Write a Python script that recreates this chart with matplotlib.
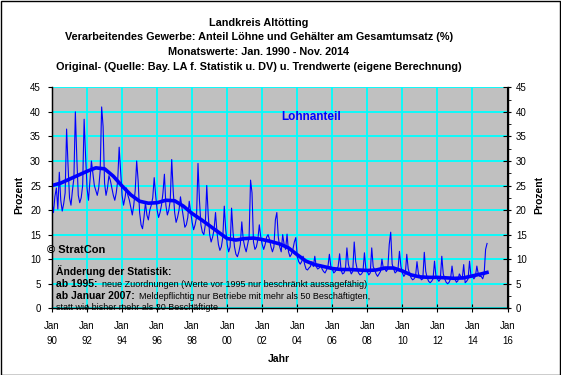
import numpy as np
import matplotlib
matplotlib.use("Agg")
import matplotlib.pyplot as plt
from matplotlib.patches import Rectangle

plt.rcParams['font.family'] = ['Liberation Sans', 'DejaVu Sans']

# monthly values Jan 1990 - Nov 2014 (Prozent), one list per year
y1990 = [21.5, 19.5, 22.8, 24.5, 20.2, 27.7, 22.0, 19.8, 21.3, 23.5, 36.5, 29.0]
y1991 = [22.5, 21.0, 24.0, 26.5, 40.0, 30.5, 23.0, 21.5, 22.5, 25.0, 38.5, 31.0]
y1992 = [24.5, 22.0, 26.0, 30.0, 27.5, 25.0, 24.0, 23.0, 24.5, 28.0, 41.0, 37.0]
y1993 = [25.5, 23.0, 24.5, 27.0, 26.0, 24.5, 23.0, 22.0, 23.5, 26.0, 32.8, 28.0]
y1994 = [23.0, 21.0, 22.5, 24.5, 23.0, 22.0, 20.5, 19.0, 21.0, 24.0, 30.0, 26.0]
y1995 = [19.5, 17.0, 16.2, 18.5, 21.5, 19.0, 18.0, 20.0, 21.0, 22.5, 26.6, 23.0]
y1996 = [20.0, 18.5, 19.5, 21.0, 23.5, 27.3, 21.0, 19.0, 20.0, 22.0, 30.3, 24.0]
y1997 = [19.5, 17.5, 18.5, 20.0, 22.7, 20.5, 18.5, 16.5, 17.0, 18.5, 21.8, 19.5]
y1998 = [17.5, 16.0, 17.0, 18.5, 29.5, 22.0, 17.0, 15.5, 15.0, 17.0, 25.0, 19.0]
y1999 = [15.0, 13.5, 14.5, 16.0, 19.5, 15.5, 13.0, 11.8, 12.5, 14.5, 20.8, 16.0]
y2000 = [13.0, 11.5, 12.5, 20.4, 15.5, 12.5, 11.0, 10.5, 11.5, 13.0, 17.6, 14.0]
y2001 = [12.5, 11.5, 13.0, 14.5, 26.1, 23.5, 13.5, 12.0, 12.5, 14.0, 17.0, 14.5]
y2002 = [13.0, 12.0, 13.0, 14.5, 15.0, 14.0, 12.5, 11.5, 12.5, 18.0, 19.5, 14.5]
y2003 = [12.5, 11.5, 15.0, 13.0, 12.0, 15.1, 11.5, 10.5, 11.0, 12.0, 13.5, 14.4]
y2004 = [10.5, 9.5, 9.0, 9.5, 10.6, 9.0, 8.0, 7.8, 8.2, 8.5, 9.5, 8.5]
y2005 = [10.6, 8.5, 8.0, 8.2, 8.8, 8.0, 7.5, 7.2, 7.8, 8.5, 11.0, 8.5]
y2006 = [8.0, 7.2, 7.5, 8.0, 8.5, 11.1, 7.8, 7.0, 7.2, 8.0, 12.3, 9.0]
y2007 = [7.8, 7.0, 7.5, 13.5, 9.5, 8.0, 7.2, 6.8, 7.0, 7.5, 11.3, 8.0]
y2008 = [7.5, 6.8, 7.2, 12.3, 8.5, 7.8, 7.0, 6.5, 7.0, 7.5, 10.0, 8.0]
y2009 = [8.0, 7.5, 8.0, 13.0, 15.5, 9.0, 8.0, 7.2, 7.5, 8.0, 11.6, 8.5]
y2010 = [7.2, 6.5, 7.0, 11.0, 8.0, 7.0, 6.2, 5.8, 6.0, 6.5, 9.5, 7.0]
y2011 = [6.5, 5.8, 6.0, 11.4, 7.5, 6.2, 5.5, 5.2, 5.5, 6.0, 9.6, 6.5]
y2012 = [6.0, 5.5, 6.0, 10.6, 7.0, 6.0, 5.3, 5.0, 5.3, 6.0, 8.6, 6.2]
y2013 = [6.0, 5.3, 5.6, 7.0, 6.5, 6.0, 8.9, 5.2, 5.5, 6.0, 9.6, 6.5]
y2014 = [6.5, 6.0, 6.5, 8.6, 7.0, 6.5, 6.5, 6.0, 7.0, 12.0, 13.2]

trend_t = [1990.0, 1990.5, 1991.0, 1991.5, 1992.0, 1992.5, 1993.0, 1993.5, 1994.0, 1994.5,
           1995.0, 1995.5, 1996.0, 1996.5, 1997.0, 1997.5, 1998.0, 1998.5, 1999.0, 1999.5,
           2000.0, 2000.5, 2001.0, 2001.5, 2002.0, 2002.5, 2003.0, 2003.5, 2004.0, 2004.5,
           2005.0, 2005.5, 2006.0, 2006.5, 2007.0, 2007.5, 2008.0, 2008.5, 2009.0, 2009.5,
           2010.0, 2010.5, 2011.0, 2011.5, 2012.0, 2012.5, 2013.0, 2013.5, 2014.0, 2014.5,
           2014.83]
trend_v = [25.0, 25.5, 26.3, 27.1, 27.9, 28.6, 28.4, 26.9, 24.9, 23.1,
           21.8, 21.4, 21.5, 22.0, 21.9, 20.8, 19.3, 18.1, 16.8, 15.5,
           14.2, 13.9, 14.2, 14.3, 14.0, 13.6, 13.1, 12.3, 10.9, 9.6,
           8.9, 8.5, 8.1, 7.9, 7.9, 7.8, 7.7, 7.8, 8.2, 8.2,
           7.6, 6.8, 6.4, 6.3, 6.3, 6.2, 6.1, 6.2, 6.6, 7.0,
           7.3]

year_ticks = list(range(1990, 2017, 2))
tick_labels = [f"Jan\n{y % 100:02d}" for y in year_ticks]

values = (y1990 + y1991 + y1992 + y1993 + y1994 + y1995 + y1996 + y1997 + y1998 + y1999
          + y2000 + y2001 + y2002 + y2003 + y2004 + y2005 + y2006 + y2007 + y2008 + y2009
          + y2010 + y2011 + y2012 + y2013 + y2014)
months = 1990 + np.arange(len(values)) / 12.0

W, H = 561, 375
fig = plt.figure(figsize=(W / 100, H / 100), dpi=100)
fig.patch.set_facecolor('white')


def fx(px):
    return px / W


def fy(py):
    return 1 - py / H


ax = fig.add_axes([fx(52), fy(308.3), fx(507.5) - fx(52), fy(87.3) - fy(308.3)])
ax.set_facecolor('#c0c0c0')
ax.set_axisbelow(True)

ax.plot(months, values, color='#0000ff', lw=0.8, zorder=3)
ax.plot(trend_t, trend_v, color='#0000ff', lw=2.6, zorder=4)

ax.set_xlim(1990, 2016)
ax.set_ylim(0, 45)
ax.set_xticks(year_ticks)
ax.set_xticklabels(tick_labels, fontsize=7, linespacing=1.6)
ax.set_yticks(range(0, 46, 5))
ax.tick_params(axis='y', direction='out', length=3, labelsize=7, pad=5)
ax.tick_params(axis='x', direction='inout', length=6, pad=6)
ax.grid(True, color='#00ffff', lw=1.3)

ax.spines['top'].set_visible(False)
for s in ['left', 'right', 'bottom']:
    ax.spines[s].set_color('black')
    ax.spines[s].set_linewidth(1.0)

# right axis, same scale
ax2 = ax.twinx()
ax2.set_ylim(0, 45)
ax2.set_yticks(range(0, 46, 5))
ax2.set_yticks(np.arange(2.5, 45, 5), minor=True)
ax2.tick_params(axis='y', which='major', direction='inout', length=6, labelsize=7, pad=3)
ax2.tick_params(axis='y', which='minor', direction='out', length=3)
ax2.spines['top'].set_visible(False)

fig.text(fx(19), fy(195), 'Prozent', rotation=90, fontsize=7.5, fontweight='bold',
         ha='center', va='center')
fig.text(fx(539), fy(195), 'Prozent', rotation=90, fontsize=7.5, fontweight='bold',
         ha='center', va='center')
fig.text(fx(279), fy(359), 'Jahr', fontsize=7.5, fontweight='bold', ha='center', va='center')

titles = ["Landkreis Altötting",
          "Verarbeitendes Gewerbe: Anteil Löhne und Gehälter am Gesamtumsatz (%)",
          "Monatswerte: Jan. 1990 - Nov. 2014",
          "Original- (Quelle: Bay. LA f. Statistik u. DV) u. Trendwerte (eigene Berechnung)"]
for t, py in zip(titles, [22.7, 37.2, 52.0, 66.7]):
    fig.text(fx(259), fy(py), t, fontsize=7.8, fontweight='bold', ha='center', va='center')

fig.text(fx(311), fy(117.3), 'Lohnanteil', fontsize=8.5, fontweight='bold',
         color='#0000ff', ha='center', va='center')
fig.text(fx(47), fy(250), '© StratCon', fontsize=8, fontweight='bold', ha='left', va='center')

# notes on the change of the statistics
fig.text(fx(56), fy(271.5), 'Änderung der Statistik:', fontsize=7.5, fontweight='bold',
         ha='left', va='center')
fig.text(fx(56), fy(284.3), 'ab 1995:', fontsize=7.5, fontweight='bold',
         ha='left', va='center')
fig.text(fx(102), fy(284.3), 'neue Zuordnungen (Werte vor 1995 nur beschränkt aussagefähig)',
         fontsize=6.5, ha='left', va='center')
fig.text(fx(56), fy(296.2), 'ab Januar 2007:', fontsize=7.5, fontweight='bold',
         ha='left', va='center')
fig.text(fx(139), fy(296.2), 'Meldepflichtig nur Betriebe mit mehr als 50 Beschäftigten,',
         fontsize=6.5, ha='left', va='center')
fig.text(fx(56), fy(307.7), 'statt wie bisher mehr als 20 Beschäftigte',
         fontsize=6.5, ha='left', va='center')

fig.add_artist(Rectangle((0.5 / W, 0.5 / H), 1 - 1.5 / W, 1 - 1.5 / H, transform=fig.transFigure,
                         fill=False, edgecolor='black', lw=1.0))

fig.savefig('out.png', dpi=100)
